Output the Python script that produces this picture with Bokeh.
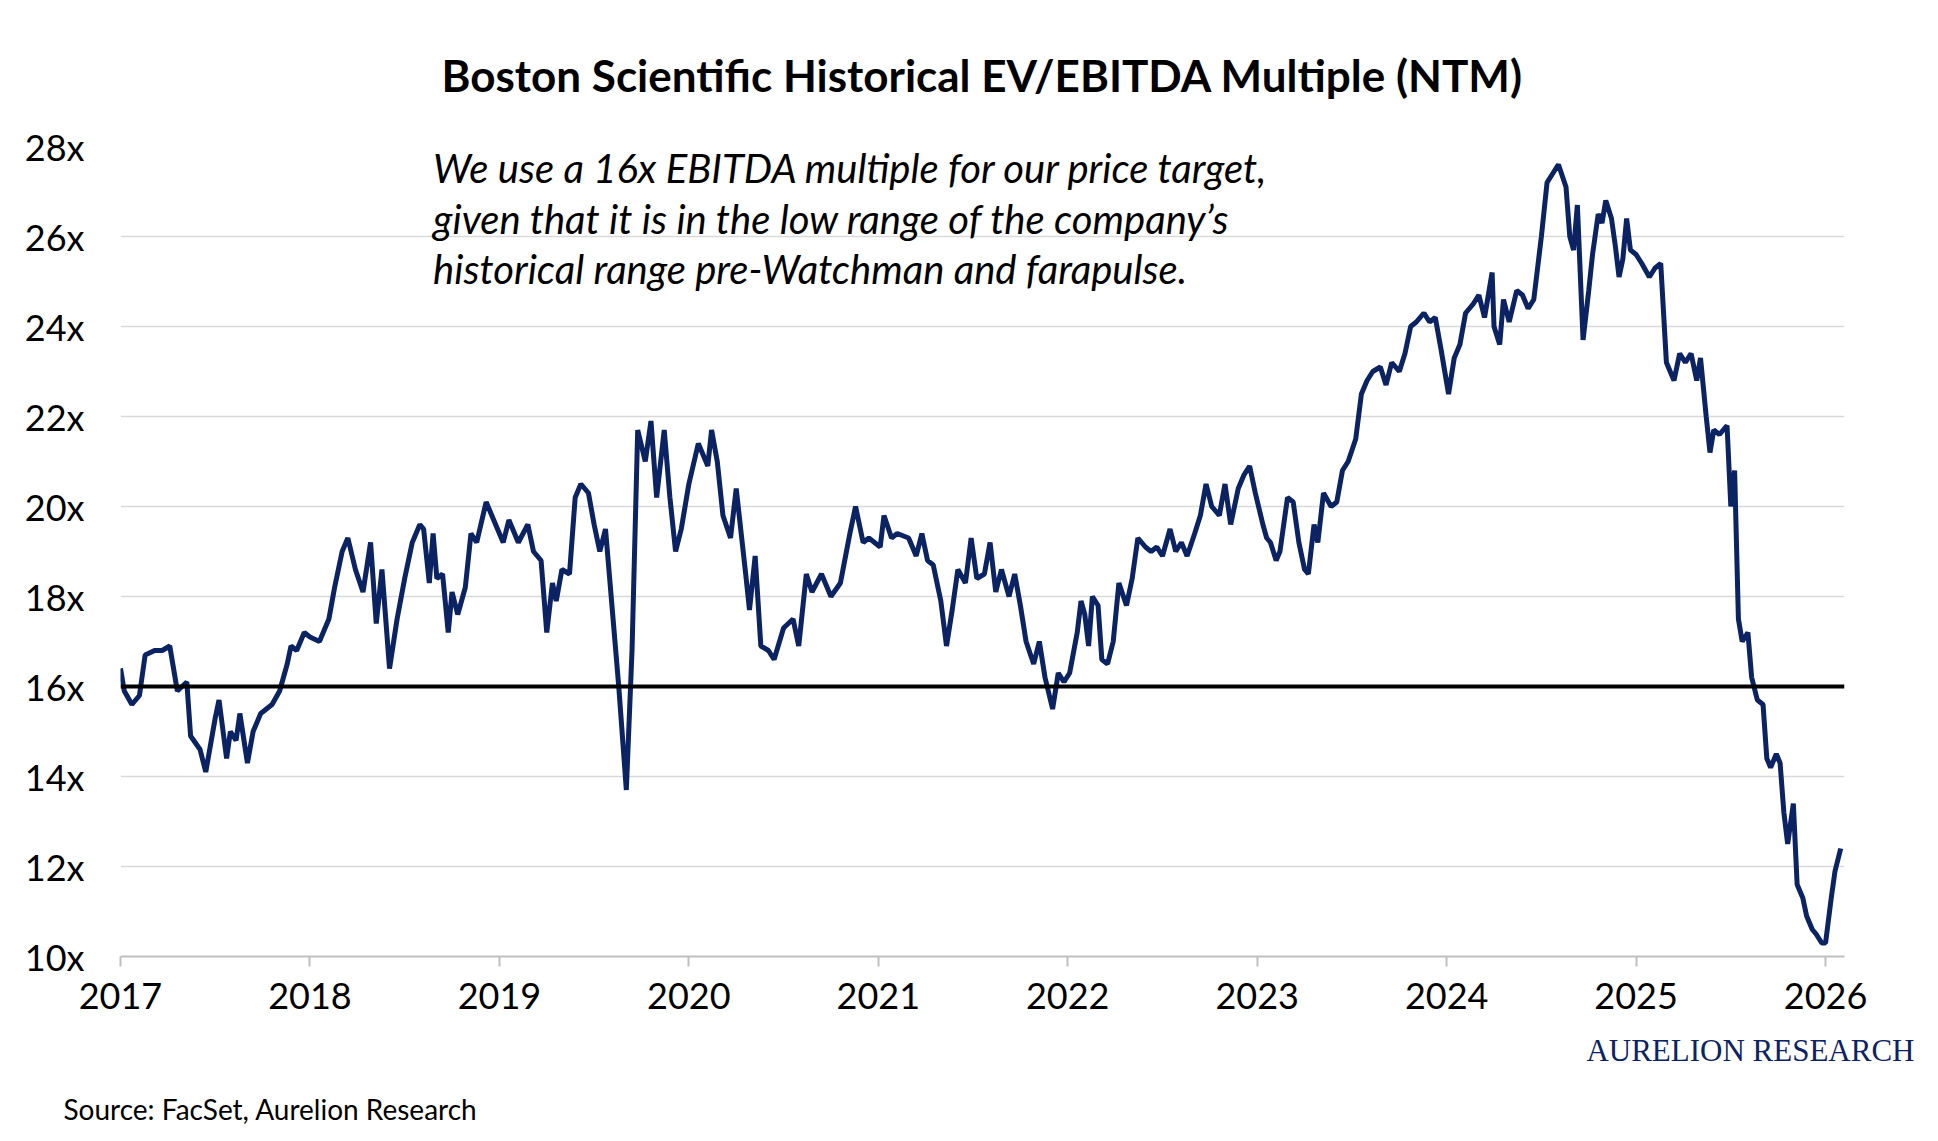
from bokeh.plotting import figure
from bokeh.models import Label, Span, FixedTicker, Range1d, CustomJSTickFormatter, Title
from bokeh.embed import file_html
from bokeh.resources import INLINE

years_a = [2017.0,2017.02,2017.06,2017.1,2017.13,2017.18,2017.22,2017.26,2017.3,2017.35,2017.37,2017.42,2017.45,2017.5,2017.52,2017.56,2017.58,2017.61,2017.63,2017.67,2017.7,2017.74,2017.8,2017.84,2017.88,2017.9,2017.93,2017.97,2018.0,2018.05,2018.1,2018.13,2018.17,2018.2,2018.24,2018.28,2018.32,2018.35,2018.38,2018.42,2018.46,2018.5,2018.54,2018.58,2018.6,2018.63,2018.65,2018.67,2018.7,2018.73,2018.75,2018.78,2018.82,2018.85,2018.88,2018.93,2018.98,2019.02,2019.05,2019.1,2019.15,2019.18,2019.22,2019.25,2019.28,2019.3,2019.33,2019.37,2019.4,2019.43,2019.47,2019.5,2019.53,2019.56,2019.6,2019.63,2019.67,2019.7,2019.73,2019.77,2019.8,2019.83,2019.87,2019.9,2019.93,2019.96,2020.0,2020.05,2020.1,2020.12,2020.15,2020.18,2020.22,2020.25,2020.3,2020.32,2020.35,2020.38,2020.42,2020.45,2020.5,2020.55,2020.58,2020.62,2020.65,2020.7,2020.75,2020.8,2020.85,2020.88,2020.92,2020.95]
vals_a = [16.4,15.9,15.6,15.8,16.7,16.8,16.8,16.9,15.9,16.1,14.9,14.6,14.1,15.3,15.7,14.4,15.0,14.8,15.4,14.3,15.0,15.4,15.6,15.9,16.5,16.9,16.8,17.2,17.1,17.0,17.5,18.2,19.0,19.3,18.6,18.1,19.2,17.4,18.6,16.4,17.5,18.4,19.2,19.6,19.5,18.3,19.4,18.4,18.5,17.2,18.1,17.6,18.2,19.4,19.2,20.1,19.6,19.2,19.7,19.2,19.6,19.0,18.8,17.2,18.3,17.9,18.6,18.5,20.2,20.5,20.3,19.6,19.0,19.5,17.5,16.0,13.7,16.8,21.7,21.0,21.9,20.2,21.7,20.2,19.0,19.5,20.5,21.4,20.9,21.7,21.0,19.8,19.3,20.4,18.5,17.7,18.9,16.9,16.8,16.6,17.3,17.5,16.9,18.5,18.1,18.5,18.0,18.3,19.4,20.0,19.2,19.3]
years_b = [2021.01,2021.03,2021.07,2021.10,2021.16,2021.20,2021.23,2021.26,2021.29,2021.33,2021.36,2021.39,2021.42,2021.46,2021.49,2021.52,2021.56,2021.59,2021.62,2021.65,2021.69,2021.72,2021.75,2021.78,2021.82,2021.85,2021.88,2021.92,2021.95,2021.98,2022.01,2022.05,2022.07,2022.09,2022.11,2022.13,2022.16,2022.18,2022.21,2022.24,2022.27,2022.31,2022.34,2022.37,2022.41,2022.44,2022.47,2022.50,2022.54,2022.57,2022.60,2022.63,2022.67,2022.70,2022.73,2022.76,2022.80,2022.83,2022.86,2022.90,2022.93,2022.96,2022.99,2023.03,2023.05,2023.07,2023.10,2023.12,2023.16,2023.19,2023.22,2023.25,2023.27,2023.30,2023.32,2023.35,2023.39,2023.42,2023.45,2023.48,2023.52,2023.55,2023.58,2023.61,2023.65,2023.68,2023.71,2023.75,2023.78,2023.81,2023.84,2023.88,2023.91,2023.94,2023.97,2024.01,2024.04,2024.07,2024.10,2024.14,2024.17,2024.20,2024.24,2024.25,2024.28,2024.30,2024.33,2024.37,2024.40,2024.43,2024.46,2024.50,2024.53,2024.56,2024.59,2024.63,2024.65,2024.67,2024.69,2024.72,2024.75,2024.77,2024.80,2024.82,2024.84,2024.87,2024.89,2024.91,2024.93,2024.95,2024.97,2025.00,2025.03,2025.07,2025.10,2025.13,2025.16,2025.20,2025.23,2025.26,2025.29,2025.32,2025.34,2025.37,2025.39,2025.41,2025.44,2025.48,2025.50,2025.52,2025.54,2025.56,2025.59,2025.61,2025.64,2025.67,2025.69,2025.71,2025.74,2025.76,2025.78,2025.80,2025.83,2025.85,2025.88,2025.90,2025.93,2025.95,2025.98,2026.00,2026.03,2026.05,2026.08]
vals_b = [19.1,19.8,19.3,19.4,19.3,18.9,19.4,18.8,18.7,17.9,16.9,17.7,18.6,18.3,19.3,18.4,18.5,19.2,18.1,18.6,18.0,18.5,17.8,17.0,16.5,17.0,16.2,15.5,16.3,16.1,16.3,17.2,17.9,17.6,16.9,18.0,17.8,16.6,16.5,17.0,18.3,17.8,18.4,19.3,19.1,19.0,19.1,18.9,19.5,19.0,19.2,18.9,19.4,19.8,20.5,20.0,19.8,20.5,19.6,20.4,20.7,20.9,20.3,19.6,19.3,19.2,18.8,19.0,20.2,20.1,19.2,18.6,18.5,19.6,19.2,20.3,20.0,20.1,20.8,21.0,21.5,22.5,22.8,23.0,23.1,22.7,23.2,23.0,23.4,24.0,24.1,24.3,24.1,24.2,23.5,22.5,23.3,23.6,24.3,24.5,24.7,24.2,25.2,24.0,23.6,24.6,24.1,24.8,24.7,24.4,24.6,26.0,27.2,27.4,27.6,27.1,26.0,25.7,26.7,23.7,24.8,25.6,26.5,26.3,26.8,26.4,25.8,25.1,25.5,26.4,25.7,25.6,25.4,25.1,25.3,25.4,23.2,22.8,23.4,23.2,23.4,22.8,23.3,22.0,21.2,21.7,21.6,21.8,20.0,20.8,17.5,17.0,17.2,16.2,15.7,15.6,14.4,14.2,14.5,14.3,13.2,12.5,13.4,11.6,11.3,10.9,10.6,10.5,10.3,10.3,11.3,11.9,12.4]
years = years_a + years_b
values = vals_a + vals_b
target_multiple = 16
year_ticks = list(range(2017, 2027))
y_ticks = list(range(10, 29, 2))

NAVY = "#0B2263"
FONT = "Lato"

p = figure(width=1920, height=1128, output_backend="svg", toolbar_location=None,
           x_range=Range1d(2017, 2026.1), y_range=Range1d(10, 28),
           min_border_left=120, min_border_right=76, min_border_top=20, min_border_bottom=4)
p.title.text = "Boston Scientific Historical EV/EBITDA Multiple (NTM)"
p.title.align = "center"
p.title.text_font = FONT
p.title.text_font_style = "bold"
p.title.text_font_size = "44px"
p.title.text_color = "black"
p.title.standoff = 92
p.title.offset = 0

p.outline_line_color = None
p.background_fill_color = "white"
p.xgrid.grid_line_color = None
p.ygrid.grid_line_color = "#D9D9D9"
p.ygrid.grid_line_width = 1.5
p.yaxis.ticker = FixedTicker(ticks=y_ticks)
p.xaxis.ticker = FixedTicker(ticks=year_ticks)
p.yaxis.formatter = CustomJSTickFormatter(code="return tick + 'x';")
p.xaxis.formatter = CustomJSTickFormatter(code="return tick.toString();")
for ax in (p.xaxis, p.yaxis):
    ax.major_label_text_font = FONT
    ax.major_label_text_font_size = "36px"
    ax.major_label_text_color = "black"
    ax.minor_tick_line_color = None
p.yaxis.axis_line_color = None
p.yaxis.major_tick_line_color = None
p.yaxis.major_label_standoff = 30
p.xaxis.axis_line_color = "#BFBFBF"
p.xaxis.axis_line_width = 2
p.xaxis.major_tick_line_color = "#BFBFBF"
p.xaxis.major_tick_line_width = 2
p.xaxis.major_tick_in = 0
p.xaxis.major_tick_out = 10
p.xaxis.major_label_standoff = 16

p.add_layout(Title(text="AURELION RESEARCH", align="right", text_font="Liberation Serif",
                   text_font_size="31px", text_color=NAVY, text_font_style="normal",
                   offset=-70, standoff=38), "below")
p.add_layout(Title(text="Source: FacSet, Aurelion Research", align="left", text_font=FONT,
                   text_font_size="28px", text_color="black", text_font_style="normal",
                   offset=-57, standoff=6), "below")

p.line(years, values, line_color=NAVY, line_width=5)
p.add_layout(Span(location=target_multiple, dimension="width", line_color="black", line_width=4))

for i, t in enumerate(["We use a 16x EBITDA multiple for our price target,",
                       "given that it is in the low range of the company\u2019s",
                       "historical range pre-Watchman and farapulse."]):
    p.add_layout(Label(x=2018.65, y=27.53 - i * 1.13, text=t, text_font=FONT, text_color="black",
                       text_font_style="italic", text_font_size="40px", text_baseline="middle"))

open("out.html", "w").write(file_html(p, INLINE))
